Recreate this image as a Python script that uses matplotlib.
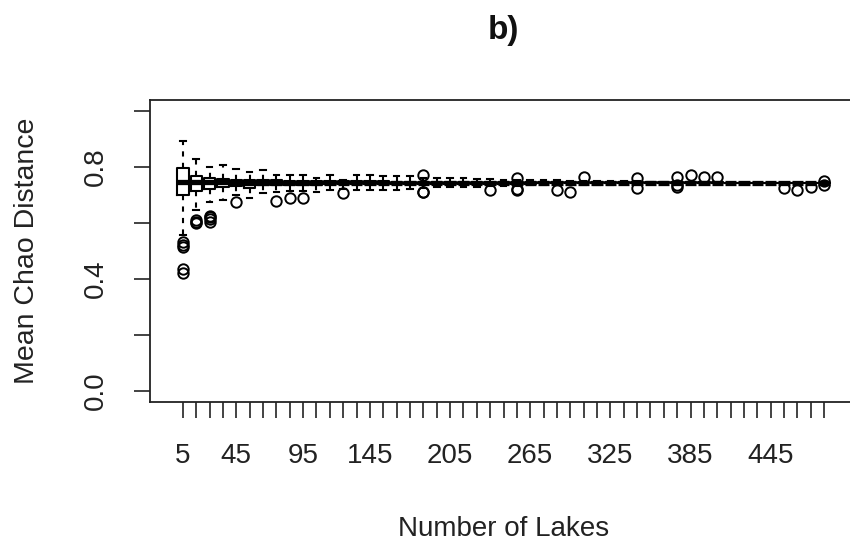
import numpy as np
import matplotlib.pyplot as plt

plt.rcParams['font.family'] = ['Liberation Sans', 'DejaVu Sans']

# number of lakes sampled (one box per group)
n_lakes = list(range(5, 486, 10))
shown_labels = [5, 45, 95, 145, 205, 265, 325, 385, 445]

medians = [0.748, 0.746, 0.745, 0.745, 0.744, 0.744, 0.744, 0.744, 0.744, 0.744,
           0.743, 0.743, 0.743, 0.743, 0.743, 0.743, 0.743, 0.743, 0.743, 0.743,
           0.743, 0.743, 0.743, 0.743, 0.743, 0.743, 0.743, 0.743, 0.743, 0.743,
           0.743, 0.743, 0.743, 0.743, 0.743, 0.743, 0.743, 0.743, 0.743, 0.743,
           0.743, 0.743, 0.743, 0.743, 0.743, 0.743, 0.743, 0.743, 0.743]
q1 = [0.700, 0.715, 0.722, 0.730, 0.733, 0.726, 0.735, 0.735, 0.736, 0.737,
      0.737, 0.738, 0.738, 0.739, 0.739, 0.739, 0.739, 0.740, 0.740, 0.740,
      0.740, 0.741, 0.741, 0.741, 0.741, 0.741, 0.741, 0.742, 0.742, 0.742,
      0.742, 0.742, 0.742, 0.742, 0.742, 0.742, 0.742, 0.742, 0.742, 0.742,
      0.742, 0.742, 0.742, 0.742, 0.742, 0.742, 0.742, 0.742, 0.742]
q3 = [0.798, 0.768, 0.760, 0.757, 0.755, 0.752, 0.752, 0.752, 0.751, 0.751,
      0.750, 0.750, 0.749, 0.749, 0.749, 0.749, 0.748, 0.748, 0.748, 0.747,
      0.747, 0.747, 0.746, 0.746, 0.746, 0.746, 0.745, 0.745, 0.745, 0.745,
      0.745, 0.745, 0.745, 0.745, 0.745, 0.745, 0.745, 0.745, 0.745, 0.745,
      0.745, 0.744, 0.744, 0.744, 0.744, 0.744, 0.744, 0.744, 0.744]
whis_lo = [0.555, 0.648, 0.675, 0.683, 0.700, 0.690, 0.706, 0.712, 0.714, 0.716,
           0.711, 0.717, 0.720, 0.717, 0.717, 0.718, 0.719, 0.720, 0.725, 0.727,
           0.728, 0.729, 0.730, 0.731, 0.732, 0.733, 0.734, 0.735, 0.735, 0.736,
           0.736, 0.737, 0.737, 0.738, 0.738, 0.739, 0.739, 0.740, 0.740, 0.741,
           0.741, 0.742, 0.742, 0.742, 0.742, 0.742, 0.742, 0.742, 0.742]
whis_hi = [0.895, 0.830, 0.800, 0.808, 0.794, 0.782, 0.788, 0.773, 0.771, 0.771,
           0.759, 0.770, 0.753, 0.770, 0.770, 0.769, 0.768, 0.768, 0.762, 0.762,
           0.761, 0.761, 0.758, 0.756, 0.755, 0.754, 0.753, 0.752, 0.752, 0.751,
           0.751, 0.750, 0.750, 0.749, 0.749, 0.748, 0.748, 0.747, 0.747, 0.746,
           0.746, 0.744, 0.744, 0.744, 0.744, 0.744, 0.744, 0.744, 0.744]
outliers = [[0.530, 0.515, 0.520, 0.435, 0.420], [0.605, 0.600, 0.610],
            [0.625, 0.615, 0.605, 0.620], [], [0.676], [], [], [0.678], [0.688], [0.690],
            [], [], [0.706], [], [], [], [], [], [0.770, 0.709, 0.712], [],
            [], [], [], [0.718], [], [0.759, 0.718, 0.722], [], [], [0.718], [0.709],
            [0.765], [], [], [], [0.762, 0.725], [], [], [0.765, 0.728, 0.735], [0.771], [0.765],
            [0.765], [], [], [], [], [0.726], [0.718], [0.730], [0.735, 0.750]]

stats = []
for i in range(len(n_lakes)):
    stats.append(dict(med=medians[i], q1=q1[i], q3=q3[i],
                      whislo=whis_lo[i], whishi=whis_hi[i], fliers=outliers[i]))

fig = plt.figure(figsize=(8.5, 5.48), dpi=100)
ax = fig.add_axes([150 / 850, 1 - 401.7 / 548, 707 / 850, 301.7 / 548])

positions = np.arange(1, len(n_lakes) + 1)
ax.bxp(stats, positions=positions, widths=0.85, capwidths=0.42,
       boxprops=dict(color='black', linewidth=1.5),
       medianprops=dict(color='black', linewidth=3.8, solid_capstyle='butt'),
       whiskerprops=dict(color='black', linewidth=1.5, linestyle=(0, (2.5, 3))),
       capprops=dict(color='black', linewidth=1.5),
       flierprops=dict(marker='o', markersize=7.5, markerfacecolor='none',
                       markeredgecolor='black', markeredgewidth=1.4))

ax.set_xlim(-1.46, 51.46)
ax.set_ylim(-0.04, 1.04)

ax.set_xticks(positions)
ax.set_xticklabels([str(n) if n in shown_labels else '' for n in n_lakes])
ax.set_yticks([0.0, 0.2, 0.4, 0.6, 0.8, 1.0])
ax.set_yticklabels(['0.0', '', '0.4', '', '0.8', ''])

ax.tick_params(axis='both', length=11.5, width=1.2, color='#222222',
               labelsize=20, labelcolor='#222222', pad=18)
ax.tick_params(axis='y', labelrotation=90)
for lbl in ax.get_yticklabels():
    lbl.set_verticalalignment('center')

for sp in ax.spines.values():
    sp.set_linewidth(1.3)
    sp.set_color('#222222')

ax.set_xlabel('Number of Lakes', fontsize=20, color='#222222', labelpad=34)
ax.set_ylabel('Mean Chao Distance', fontsize=20.5, color='#222222', labelpad=31)
ax.set_title('b)', fontsize=24, fontweight='bold', color='#111111', pad=44)

fig.savefig('out.png', dpi=100)
